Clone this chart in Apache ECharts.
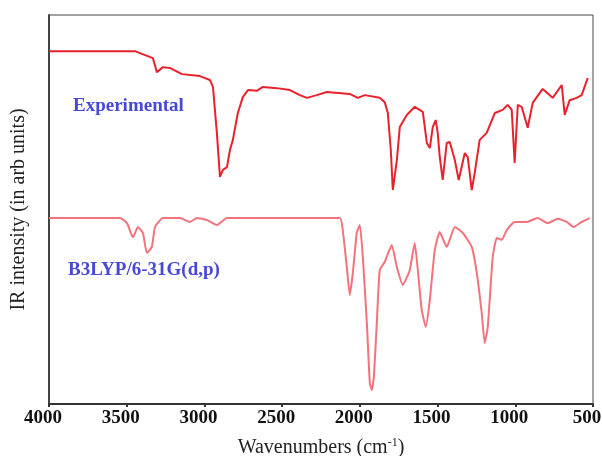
<!DOCTYPE html>
<html>
<head>
<meta charset="utf-8">
<script src="https://cdn.jsdelivr.net/npm/echarts@6/dist/echarts.min.js"></script>
<style>
  html, body { margin: 0; padding: 0; background: #fff; }
  #chart { width: 602px; height: 456px; }
</style>
</head>
<body>
<div id="chart"></div>
<script>
// wavenumbers (cm-1) and intensity (arb units, 0-100)
var expWave = [4000, 3447, 3415, 3331, 3306, 3267, 3222, 3145, 3029, 2965, 2945, 2920, 2900, 2881, 2855, 2836, 2817, 2785, 2753, 2720, 2663, 2624, 2534, 2450, 2386, 2341, 2277, 2212, 2065, 2013, 1968, 1872, 1840, 1820, 1801, 1788, 1762, 1743, 1698, 1647, 1595, 1569, 1550, 1531, 1512, 1499, 1486, 1467, 1441, 1422, 1389, 1364, 1325, 1306, 1280, 1261, 1229, 1184, 1132, 1081, 1049, 1023, 1004, 984, 959, 920, 888, 824, 759, 701, 682, 650, 605, 573, 534];
var expInt = [90.7, 90.7, 90.2, 88.9, 85.3, 86.6, 86.4, 84.8, 84.3, 83.3, 81.5, 69.7, 58.4, 60.2, 60.9, 65.3, 67.9, 74.8, 78.9, 80.7, 80.5, 81.5, 81.2, 80.7, 79.4, 78.7, 79.4, 80.2, 79.7, 78.7, 79.4, 78.7, 77.6, 74.8, 65.3, 55.0, 62.7, 71.2, 74.3, 76.4, 75.1, 67.1, 65.8, 71.2, 73.0, 69.7, 63.5, 57.6, 67.1, 67.4, 62.7, 57.6, 64.5, 63.5, 55.0, 59.4, 67.9, 69.7, 74.8, 75.6, 76.9, 75.6, 62.0, 76.9, 76.4, 71.0, 77.4, 81.0, 78.7, 82.0, 74.3, 78.1, 78.7, 79.4, 83.8];

var calcWave = [4000, 3543, 3498, 3460, 3428, 3396, 3370, 3338, 3318, 3267, 3158, 3093, 3048, 2984, 2920, 2855, 2129, 2110, 2084, 2065, 2045, 2020, 2000, 1981, 1955, 1936, 1923, 1910, 1891, 1872, 1840, 1795, 1762, 1724, 1679, 1647, 1627, 1602, 1576, 1550, 1518, 1486, 1441, 1389, 1338, 1280, 1248, 1216, 1197, 1177, 1145, 1119, 1087, 1055, 1004, 927, 856, 792, 727, 669, 624, 573, 521];
var calcInt = [47.8, 47.8, 46.5, 42.9, 45.5, 44.0, 38.8, 40.4, 45.5, 47.8, 47.8, 46.8, 47.8, 47.3, 46.0, 47.8, 47.8, 44.7, 35.2, 28.0, 33.7, 44.0, 46.0, 37.8, 20.8, 5.4, 3.6, 6.9, 20.8, 34.4, 36.5, 40.9, 35.2, 30.6, 34.4, 41.4, 34.4, 24.2, 19.8, 26.7, 39.6, 44.2, 40.4, 45.5, 44.0, 40.4, 33.7, 23.4, 15.7, 19.8, 37.8, 42.7, 42.2, 44.7, 46.8, 46.8, 47.8, 46.5, 47.6, 46.8, 45.5, 46.8, 47.8];

var xTicks = [4000, 3500, 3000, 2500, 2000, 1500, 1000, 500];

function pairs(xs, ys) {
  var out = [];
  for (var i = 0; i < xs.length; i++) out.push([xs[i], ys[i]]);
  return out;
}

var serif = '"Liberation Serif", "DejaVu Serif", serif';

var chart = echarts.init(document.getElementById('chart'));

var option = {
  animation: false,
  backgroundColor: '#fff',
  grid: {
    left: 49, right: 9, top: 15, bottom: 52,
    outerBoundsMode: 'none',
    containLabel: false,
    show: true, borderColor: '#444', borderWidth: 1
  },
  xAxis: {
    type: 'value',
    inverse: true,
    min: 500,
    max: 4000,
    interval: 500,
    name: 'Wavenumbers (cm{sup|-1})',
    nameLocation: 'middle',
    nameGap: 33,
    nameTextStyle: {
      fontFamily: serif, fontSize: 20, color: '#222',
      rich: { sup: { fontFamily: serif, fontSize: 12, color: '#222', verticalAlign: 'top', padding: [0, 0, 9, 0] } }
    },
    axisLine: { onZero: false, lineStyle: { color: '#333', width: 2 } },
    axisTick: { show: true, length: 3, lineStyle: { color: '#333', width: 2 } },
    axisLabel: {
      margin: 5,
      padding: [0, 12, 0, 0],
      hideOverlap: false,
      fontFamily: serif, fontSize: 19, fontWeight: 'bold', color: '#111',
      formatter: function (v) { return xTicks.indexOf(v) >= 0 ? String(v) : ''; }
    },
    splitLine: { show: false }
  },
  yAxis: {
    type: 'value',
    min: 0,
    max: 100,
    name: 'IR intensity (in arb units)',
    nameLocation: 'middle',
    nameGap: 20,
    nameRotate: 90,
    nameTextStyle: { fontFamily: serif, fontSize: 20, color: '#222' },
    axisLine: { show: true, lineStyle: { color: '#444', width: 2 } },
    axisTick: { show: false },
    axisLabel: { show: false },
    splitLine: { show: false }
  },
  graphic: [
    {
      type: 'text', left: 73, top: 97,
      style: { text: 'Experimental', fontFamily: serif, fontSize: 19, fontWeight: 'bold', fill: '#4848d6' }
    },
    {
      type: 'text', left: 68, top: 261,
      style: { text: 'B3LYP/6-31G(d,p)', fontFamily: serif, fontSize: 19, fontWeight: 'bold', fill: '#4848d6' }
    }
  ],
  series: [
    {
      name: 'Experimental',
      type: 'line',
      data: pairs(expWave, expInt),
      showSymbol: false,
      lineStyle: { color: '#e8222c', width: 2 },
      smooth: false
    },
    {
      name: 'B3LYP/6-31G(d,p)',
      type: 'line',
      data: pairs(calcWave, calcInt),
      showSymbol: false,
      lineStyle: { color: '#f2737c', width: 2 },
      smooth: 0.15
    }
  ]
};

chart.setOption(option);
</script>
</body>
</html>
